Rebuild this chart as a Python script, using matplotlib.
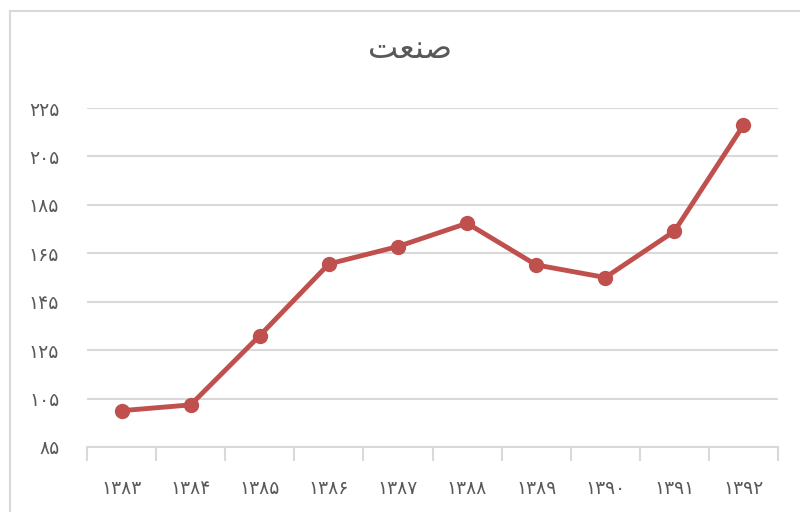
import matplotlib
matplotlib.use("Agg")
import matplotlib.pyplot as plt
from matplotlib.lines import Line2D

# Data
years = ["۱۳۸۳", "۱۳۸۴", "۱۳۸۵", "۱۳۸۶", "۱۳۸۷", "۱۳۸۸", "۱۳۸۹", "۱۳۹۰", "۱۳۹۱", "۱۳۹۲"]
values = [100.0, 102.4, 131.0, 160.6, 167.8, 177.4, 160.2, 155.0, 174.1, 217.9]
y_ticks = [85, 105, 125, 145, 165, 185, 205, 225]
y_tick_labels = ["۸۵", "۱۰۵", "۱۲۵", "۱۴۵", "۱۶۵", "۱۸۵", "۲۰۵", "۲۲۵"]
# "صنعت" in presentation forms (visual order) since matplotlib does not shape Arabic
title_text = "\uFE96\uFECC\uFEE8\uFEBB"

W, H = 800, 512
fig = plt.figure(figsize=(W / 100, H / 100), dpi=100)
ax = fig.add_axes([87 / W, 1 - 447 / H, (778 - 87) / W, (447 - 108) / H])

x = list(range(len(years)))
ax.plot(x, values, color="#C0504D", linewidth=3.5, marker="o", markersize=10,
        solid_capstyle="round", zorder=3)

ax.set_xlim(-0.5, len(years) - 0.5)
ax.set_ylim(85, 225)
ax.set_yticks(y_ticks)
ax.set_yticklabels(y_tick_labels)
ax.set_xticks(x)
ax.set_xticklabels(years)

ax.grid(axis="y", color="#D9D9D9", linewidth=1.5)
ax.set_axisbelow(True)
for s in ["top", "right", "left"]:
    ax.spines[s].set_visible(False)
ax.spines["bottom"].set_color("#D9D9D9")
ax.spines["bottom"].set_linewidth(1.5)

# category boundary ticks
ax.tick_params(axis="x", which="major", length=0, pad=23, labelsize=13.5, labelcolor="#595959")
ax.tick_params(axis="y", length=0, pad=20, labelsize=13.5, labelcolor="#595959")
ax.set_xticks([i - 0.5 for i in range(len(years) + 1)], minor=True)
ax.tick_params(axis="x", which="minor", length=10, color="#D9D9D9", width=1.5, direction="out")

for lab in ax.get_yticklabels():
    lab.set_fontfamily("DejaVu Sans")
for lab in ax.get_xticklabels():
    lab.set_fontfamily("DejaVu Sans")

fig.text(410 / W, 1 - 50 / H, title_text, ha="center", va="center",
         fontsize=23, color="#595959", family="DejaVu Sans")

# outer chart border (top and left visible)
fig.add_artist(Line2D([9.5 / W, 9.5 / W], [0, 1 - 10.5 / H], transform=fig.transFigure,
                      color="#D9D9D9", linewidth=1.5))
fig.add_artist(Line2D([9.5 / W, 1], [1 - 10.5 / H, 1 - 10.5 / H], transform=fig.transFigure,
                      color="#D9D9D9", linewidth=1.5))

fig.savefig("out.png", dpi=100, facecolor="white")
